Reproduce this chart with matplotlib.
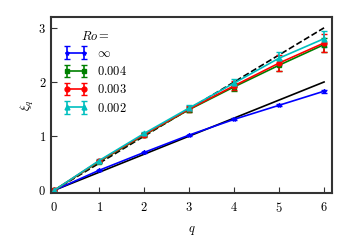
import matplotlib
matplotlib.use("Agg")
import matplotlib.pyplot as plt
import numpy as np

plt.rcParams['font.family'] = 'serif'
plt.rcParams['font.serif'] = ['cmr10']
plt.rcParams['mathtext.fontset'] = 'cm'
plt.rcParams['axes.unicode_minus'] = False
plt.rcParams['axes.formatter.use_mathtext'] = True

q = [0, 1, 2, 3, 4, 5, 6]
xi_inf = [0.0, 0.37, 0.70, 1.02, 1.31, 1.57, 1.83]
err_inf = [0.0, 0.01, 0.01, 0.01, 0.02, 0.02, 0.03]
xi_004 = [0.0, 0.53, 1.02, 1.49, 1.91, 2.31, 2.69]
err_004 = [0.0, 0.02, 0.03, 0.05, 0.07, 0.10, 0.13]
xi_003 = [0.0, 0.54, 1.03, 1.50, 1.93, 2.35, 2.72]
err_003 = [0.0, 0.02, 0.03, 0.05, 0.08, 0.15, 0.16]
xi_002 = [0.0, 0.55, 1.05, 1.52, 1.98, 2.44, 2.80]
err_002 = [0.0, 0.02, 0.03, 0.05, 0.08, 0.12, 0.15]
labels = [r'$\infty$', r'$0.004$', r'$0.003$', r'$0.002$']

fig = plt.figure(figsize=(3.5, 2.5), dpi=100)
ax = fig.add_axes([0.146, 0.228, 0.803, 0.704])

qq = np.array(q)
ax.plot(qq, qq / 2.0, 'k--', lw=1.2)
ax.plot(qq, qq / 3.0, 'k-', lw=1.2)

ax.errorbar(q, xi_inf, yerr=err_inf, color='b', marker='*', ms=3, lw=1.2, capsize=2, label=labels[0])
ax.errorbar(q, xi_004, yerr=err_004, color='g', marker='s', ms=3.5, lw=1.2, capsize=2, label=labels[1])
ax.errorbar(q, xi_003, yerr=err_003, color='r', marker='o', ms=3.5, lw=1.2, capsize=2, label=labels[2])
ax.errorbar(q, xi_002, yerr=err_002, color='c', marker='^', ms=3.5, lw=1.2, capsize=2, label=labels[3])

ax.set_xlim(-0.07, 6.18)
ax.set_ylim(-0.05, 3.2)
ax.set_xticks([0, 1, 2, 3, 4, 5, 6])
ax.set_yticks([0, 1, 2, 3])
ax.tick_params(direction='in', length=4, width=0.8, labelsize=9, colors='#333333', labelcolor='black')
ax.tick_params(axis='x', pad=6)
for s in ax.spines.values():
    s.set_linewidth(1.5)
    s.set_color('#333333')
ax.set_xlabel(r'$q$', fontsize=9, labelpad=6)
ax.set_ylabel(r'$\xi_q$', fontsize=9, labelpad=2)

leg = ax.legend(title=r'$Ro=$', loc='upper left', frameon=False, numpoints=2,
                fontsize=9, title_fontsize=9, handlelength=1.9, handletextpad=0.8,
                borderaxespad=0.6, labelspacing=0.42)

fig.savefig('out.png', dpi=100)
